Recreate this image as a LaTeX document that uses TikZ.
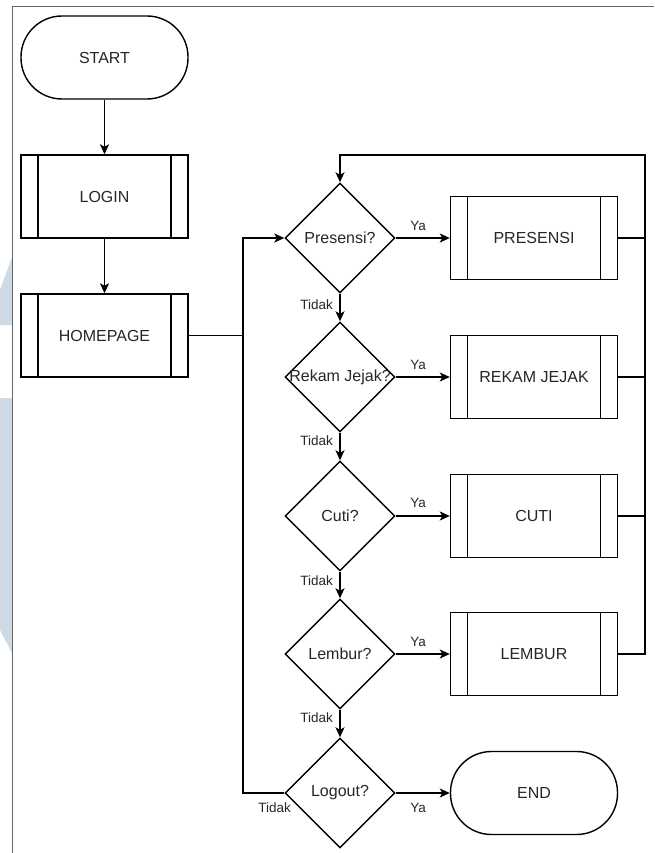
\documentclass[tikz,border=0pt]{standalone}
\usepackage{fontspec}
\setmainfont{Liberation Sans}
\usetikzlibrary{shapes.geometric,arrows.meta}
\definecolor{emblemblue}{RGB}{206,218,229}
\newcommand{\zw}[1]{\makebox[0pt]{#1}}
\begin{document}
\begin{tikzpicture}[x=1pt,y=-1pt,
  line/.style={line width=1.4pt,draw=black},
  arrow/.style={line,-{Stealth[length=10pt,width=9pt,inset=2.5pt]}},
  txt/.style={text=black!85,font=\fontsize{16}{18}\selectfont},
  lbl/.style={text=black!85,font=\fontsize{13.5}{15}\selectfont,inner sep=0pt},
  term/.style={line,txt,rectangle,rounded corners=41pt,minimum width=167pt,minimum height=83pt,inner sep=0pt},
  proc/.style={line,txt,rectangle,minimum width=167pt,minimum height=83pt,inner sep=0pt,
    path picture={
      \draw[line width=1.4pt] ([xshift=17pt]path picture bounding box.north west) -- ([xshift=17pt]path picture bounding box.south west);
      \draw[line width=1.4pt] ([xshift=-17pt]path picture bounding box.north east) -- ([xshift=-17pt]path picture bounding box.south east);
    }},
  decision/.style={line,txt,diamond,minimum width=110pt,minimum height=110pt,inner sep=0pt},
  frameline/.style={draw=black!60,line width=1pt},
  emblem/.style={fill=emblemblue,draw=none}
]
\useasboundingbox (0,0) rectangle (654,853);

% faint emblem at the left margin
\fill[emblem] (0,290) -- (12,257) -- (12,325) -- (0,325) -- cycle;
\fill[emblem] (0,398) -- (12,398) -- (12,653) -- (0,630) -- cycle;

% page frame
\draw[frameline] (12,853) -- (12,7) -- (654,7);

% left column
\node[term] (start) at (104.5,57.5) {START};
\node[proc] (login) at (104.5,196.5) {LOGIN};
\node[proc] (home)  at (104.5,335.5) {HOMEPAGE};

% decisions
\node[decision] (d1) at (340,238) {\zw{Presensi?}};
\node[decision] (d2) at (340,377) {\zw{Rekam Jejak?}};
\node[decision] (d3) at (340,516) {\zw{Cuti?}};
\node[decision] (d4) at (340,654) {\zw{Lembur?}};
\node[decision] (d5) at (340,793) {\zw{Logout?}};

% processes on the right
\node[proc] (b1) at (534,238) {PRESENSI};
\node[proc] (b2) at (534,377) {REKAM JEJAK};
\node[proc] (b3) at (534,516) {CUTI};
\node[proc] (b4) at (534,654) {LEMBUR};
\node[term] (end) at (534,793) {END};

% junction points of the loops
\coordinate (jl) at (243,793);
\coordinate (jr) at (645,155);

% main flow
\draw[arrow] (start) -- (login);
\draw[arrow] (login) -- (home);
\draw[line] (home.east) -- (home.east -| jl);
\draw[arrow] (d5.west) -- (jl) |- (d1.west);

% yes branches
\draw[arrow] (d1.east) -- (b1.west);
\draw[arrow] (d2.east) -- (b2.west);
\draw[arrow] (d3.east) -- (b3.west);
\draw[arrow] (d4.east) -- (b4.west);
\draw[arrow] (d5.east) -- (end.west);

% no branches
\draw[arrow] (d1.south) -- (d2.north);
\draw[arrow] (d2.south) -- (d3.north);
\draw[arrow] (d3.south) -- (d4.north);
\draw[arrow] (d4.south) -- (d5.north);

% return loop to the first decision
\draw[line] (b1.east) -- (b1.east -| jr);
\draw[line] (b2.east) -- (b2.east -| jr);
\draw[line] (b3.east) -- (b3.east -| jr);
\draw[arrow] (b4.east) -| (jr) -| (d1.north);

% branch labels
\node[lbl] (y1) at (418,226) {Ya};
\node[lbl] (y2) at (418,365) {Ya};
\node[lbl] (y3) at (418,503) {Ya};
\node[lbl] (y4) at (418,642) {Ya};
\node[lbl] (y5) at (418,808) {Ya};
\node[lbl,anchor=east] (t1) at (333,305) {Tidak};
\node[lbl,anchor=east] (t2) at (333,441) {Tidak};
\node[lbl,anchor=east] (t3) at (333,581) {Tidak};
\node[lbl,anchor=east] (t4) at (333,718) {Tidak};
\node[lbl,anchor=east] (t5) at (291,808) {Tidak};
\end{tikzpicture}
\end{document}
